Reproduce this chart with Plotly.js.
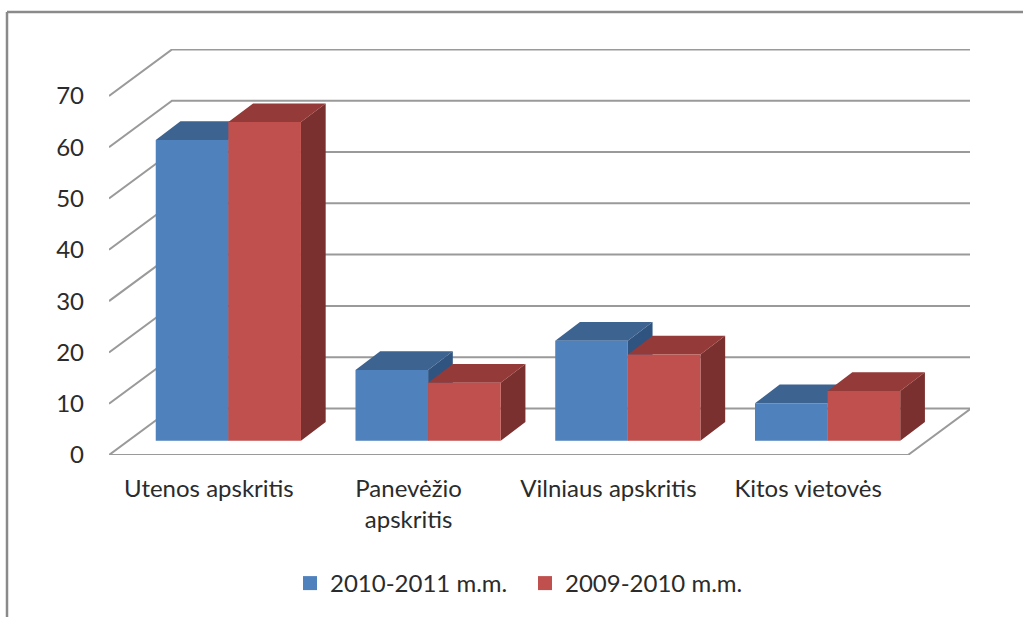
<!DOCTYPE html>
<html>
<head>
<meta charset="utf-8">
<script src="https://cdn.plot.ly/plotly-3.0.1.min.js"></script>
<style>html,body{margin:0;padding:0;background:#fff;overflow:hidden}#c{width:1023px;height:617px}</style>
</head>
<body>
<div id="c"></div>
<script>
const categories = ["Utenos apskritis", "Panevėžio<br>apskritis", "Vilniaus apskritis", "Kitos vietovės"];
const series1Name = "2010-2011 m.m.";
const series2Name = "2009-2010 m.m.";
const series1Values = [58.6, 13.8, 19.5, 7.3];
const series2Values = [62.1, 11.3, 16.8, 9.7];
const yTicks = [0, 10, 20, 30, 40, 50, 60, 70];

// 3D projection settings, in axis units
const wallDx = 0.3154, wallDy = 9.06;      // floor depth
const barStart = 0.234, barWidth = 0.3635; // position of a bar inside its category
const barLift = 2.79;                      // how far the bars stand in from the floor's front edge
const barDx = 0.1237, barDy = 3.645;       // bar depth

const ml = 109, mr = 53, mt = 49, mb = 162;
const W = 1023, H = 617;
const pw = W - ml - mr, ph = H - mt - mb;

function polys(makePts, values, slot) {
  const x = [], y = [];
  values.forEach((v, i) => {
    const x0 = i + barStart + slot * barWidth, x1 = x0 + barWidth;
    const y0 = barLift, y1 = barLift + v;
    makePts(x0, x1, y0, y1).forEach(p => { x.push(p[0]); y.push(p[1]); });
    x.push(null); y.push(null);
  });
  return {x, y};
}
const frontFace = (x0, x1, y0, y1) => [[x0,y0],[x1,y0],[x1,y1],[x0,y1],[x0,y0]];
const topFace = (x0, x1, y0, y1) => [[x0,y1],[x1,y1],[x1+barDx,y1+barDy],[x0+barDx,y1+barDy],[x0,y1]];
const sideFace = (x0, x1, y0, y1) => [[x1,y0],[x1+barDx,y0+barDy],[x1+barDx,y1+barDy],[x1,y1],[x1,y0]];

function face(pts, color) {
  return {type:"scatter", mode:"lines", x:pts.x, y:pts.y, fill:"toself", fillcolor:color,
    line:{width:0, color:color}, hoverinfo:"skip", showlegend:false, cliponaxis:false};
}
function bars(values, slot, cFront, cTop, cSide) {
  return [
    face(polys(sideFace, values, slot), cSide),
    face(polys(topFace, values, slot), cTop),
    face(polys(frontFace, values, slot), cFront)
  ];
}
function legendEntry(name, color) {
  return {type:"scatter", mode:"markers", x:[null], y:[null], name:name,
    marker:{symbol:"square", size:14, color:color}, hoverinfo:"skip"};
}

// walls and floor
const gx = [], gy = [];
yTicks.forEach(t => {
  gx.push(0, wallDx, categories.length + wallDx, null);
  gy.push(t, t + wallDy, t + wallDy, null);
});
const floorX = [0, categories.length, categories.length + wallDx];
const floorY = [0, 0, wallDy];

const traces = [
  {type:"scatter", mode:"lines", x:gx, y:gy, line:{color:"#9a9a9a", width:2}, hoverinfo:"skip", showlegend:false, cliponaxis:false},
  {type:"scatter", mode:"lines", x:floorX, y:floorY, line:{color:"#9a9a9a", width:2}, hoverinfo:"skip", showlegend:false, cliponaxis:false},
  ...bars(series1Values, 0, "#4f81bd", "#3d6390", "#2f5480"),
  ...bars(series2Values, 1, "#c0504d", "#943a38", "#7a302e"),
  legendEntry(series1Name, "#4f81bd"),
  legendEntry(series2Name, "#c0504d")
];

const font = {family:"Lato, sans-serif", size:24, color:"#2b2b2b"};
const layout = {
  width:W, height:H, paper_bgcolor:"#fff", plot_bgcolor:"rgba(0,0,0,0)",
  margin:{l:0, r:0, t:0, b:0, pad:0},
  font:font,
  showlegend:true,
  legend:{orientation:"h", x:290/W, xanchor:"left", y:1-561/H, yanchor:"top",
    font:font, bgcolor:"rgba(0,0,0,0)", traceorder:"normal", itemsizing:"trace",
    entrywidth:190, entrywidthmode:"pixels"},
  xaxis:{domain:[ml/W, 1-mr/W], range:[0,pw/199.75], tickmode:"array", tickvals:categories.map((c,i)=>i+0.5), ticktext:categories,
    showgrid:false, zeroline:false, showline:false, ticks:"", ticklabelstandoff:17, tickfont:font, automargin:false, fixedrange:true},
  yaxis:{domain:[mb/H, 1-mt/H], range:[0,ph/5.13], tickmode:"array", tickvals:yTicks, ticktext:yTicks.map(String),
    showgrid:false, zeroline:false, showline:false, ticks:"", ticklabelstandoff:24, tickfont:font, automargin:false, fixedrange:true},
  shapes:[
    {type:"line", xref:"paper", yref:"paper", x0:7/W, x1:1, y0:1-12/H, y1:1-12/H, line:{color:"#8a8a8a", width:2.5}},
    {type:"line", xref:"paper", yref:"paper", x0:7/W, x1:7/W, y0:1-12/H, y1:0, line:{color:"#8a8a8a", width:2.5}}
  ]
};
Plotly.newPlot("c", traces, layout, {displayModeBar:false, staticPlot:true});
</script>
</body>
</html>
